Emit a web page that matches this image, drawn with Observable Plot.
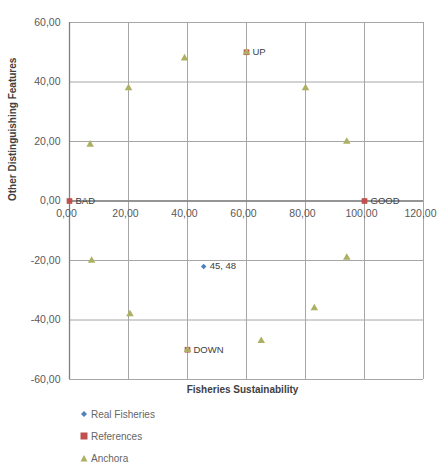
<!DOCTYPE html>
<html>
<head>
<meta charset="utf-8">
<script src="https://cdn.jsdelivr.net/npm/d3@7"></script>
<script src="https://cdn.jsdelivr.net/npm/@observablehq/plot@0.6"></script>
<style>
  html, body { margin: 0; padding: 0; background: #fff; }
  #wrap { position: relative; width: 442px; height: 463px; font-family: "Liberation Sans", Arial, sans-serif; }
  #legend { position: absolute; left: 80px; top: 403px; font-size: 10px; color: #666; }
  .item { display: flex; align-items: center; height: 22px; }
  .item svg { margin-right: 3px; }
</style>
</head>
<body>
<div id="wrap"><div id="chart"></div><div id="legend"></div></div>
<script>
// ---- data ----
const xTicks = [0, 20, 40, 60, 80, 100, 120];
const yTicks = [-60, -40, -20, 0, 20, 40, 60];
const fmt = d => d.toFixed(2).replace(".", ",");

const realX = [45.48];
const realY = [-22];
const realLabels = ["45, 48"];

const refX = [0, 100, 60, 40];
const refY = [0, 0, 50, -50];
const refLabels = ["BAD", "GOOD", "UP", "DOWN"];

const anchoraX = [39, 20, 7, 60, 80, 94, 7.5, 20.5, 94, 83, 65, 40];
const anchoraY = [48, 38, 19, 50, 38, 20, -20, -38, -19, -36, -47, -50];

const seriesNames = ["Real Fisheries", "References", "Anchora"];
const seriesColors = ["#4f81bd", "#c0504d", "#adb062"];

const real = realX.map((x, i) => ({x, y: realY[i], label: realLabels[i]}));
const refs = refX.map((x, i) => ({x, y: refY[i], label: refLabels[i]}));
const anchora = anchoraX.map((x, i) => ({x, y: anchoraY[i]}));

const plot = Plot.plot({
  width: 442,
  height: 400,
  marginLeft: 69,
  marginRight: 19,
  marginTop: 22,
  marginBottom: 21,
  x: {type: "linear", domain: [0, 120], axis: null},
  y: {type: "linear", domain: [-60, 60], axis: null},
  style: {fontFamily: "Liberation Sans, Arial, sans-serif", background: "#fff"},
  marks: [
    Plot.ruleX(xTicks, {x: d => d, stroke: "#a6a6a6", strokeWidth: 1}),
    Plot.ruleY(yTicks, {y: d => d, stroke: "#a6a6a6", strokeWidth: 1}),
    Plot.ruleY([0], {y: d => d, stroke: "#808080", strokeWidth: 1.3}),
    Plot.ruleX([0], {x: d => d, stroke: "#808080", strokeWidth: 1.3}),
    Plot.text(yTicks, {x: () => 0, y: d => d, text: d => fmt(d), dx: -9, textAnchor: "end", fill: "#595959", fontSize: 10.5}),
    Plot.text(xTicks, {x: d => d, y: () => 0, text: d => fmt(d), dy: 13, dx: -3, fill: "#595959", fontSize: 10.5}),
    Plot.text(["Fisheries Sustainability"], {frameAnchor: "bottom", dy: 13, dx: -4, fontWeight: "bold", fontSize: 10, fill: "#404040"}),
    Plot.text(["Other Distinguishing Features"], {frameAnchor: "left", rotate: -90, dx: -57, fontWeight: "bold", fontSize: 10, fill: "#404040"}),
    Plot.dot(real, {x: "x", y: "y", symbol: "diamond2", r: 2.5, fill: seriesColors[0], stroke: "none"}),
    Plot.dot(refs, {x: "x", y: "y", symbol: "square", r: 3.2, fill: seriesColors[1], stroke: "none"}),
    Plot.dot(anchora, {x: "x", y: "y", symbol: "triangle", r: 2.8, fill: seriesColors[2], stroke: "none"}),
    Plot.text(real, {x: "x", y: "y", text: "label", dx: 6, textAnchor: "start", fill: "#404040", fontSize: 9.5}),
    Plot.text(refs, {x: "x", y: "y", text: "label", dx: 6, textAnchor: "start", fill: "#404040", fontSize: 9.5})
  ]
});
document.getElementById("chart").appendChild(plot);

// legend
const legend = document.getElementById("legend");
const shapes = [
  '<polygon points="4,1 7,4 4,7 1,4" fill="' + seriesColors[0] + '"/>',
  '<rect x="0.5" y="0.5" width="7" height="7" fill="' + seriesColors[1] + '"/>',
  '<polygon points="4,1 7.5,7.5 0.5,7.5" fill="' + seriesColors[2] + '"/>'
];
seriesNames.forEach((name, i) => {
  const div = document.createElement("div");
  div.className = "item";
  div.innerHTML = '<svg width="8" height="8">' + shapes[i] + '</svg><span>' + name + '</span>';
  legend.appendChild(div);
});
</script>
</body>
</html>
